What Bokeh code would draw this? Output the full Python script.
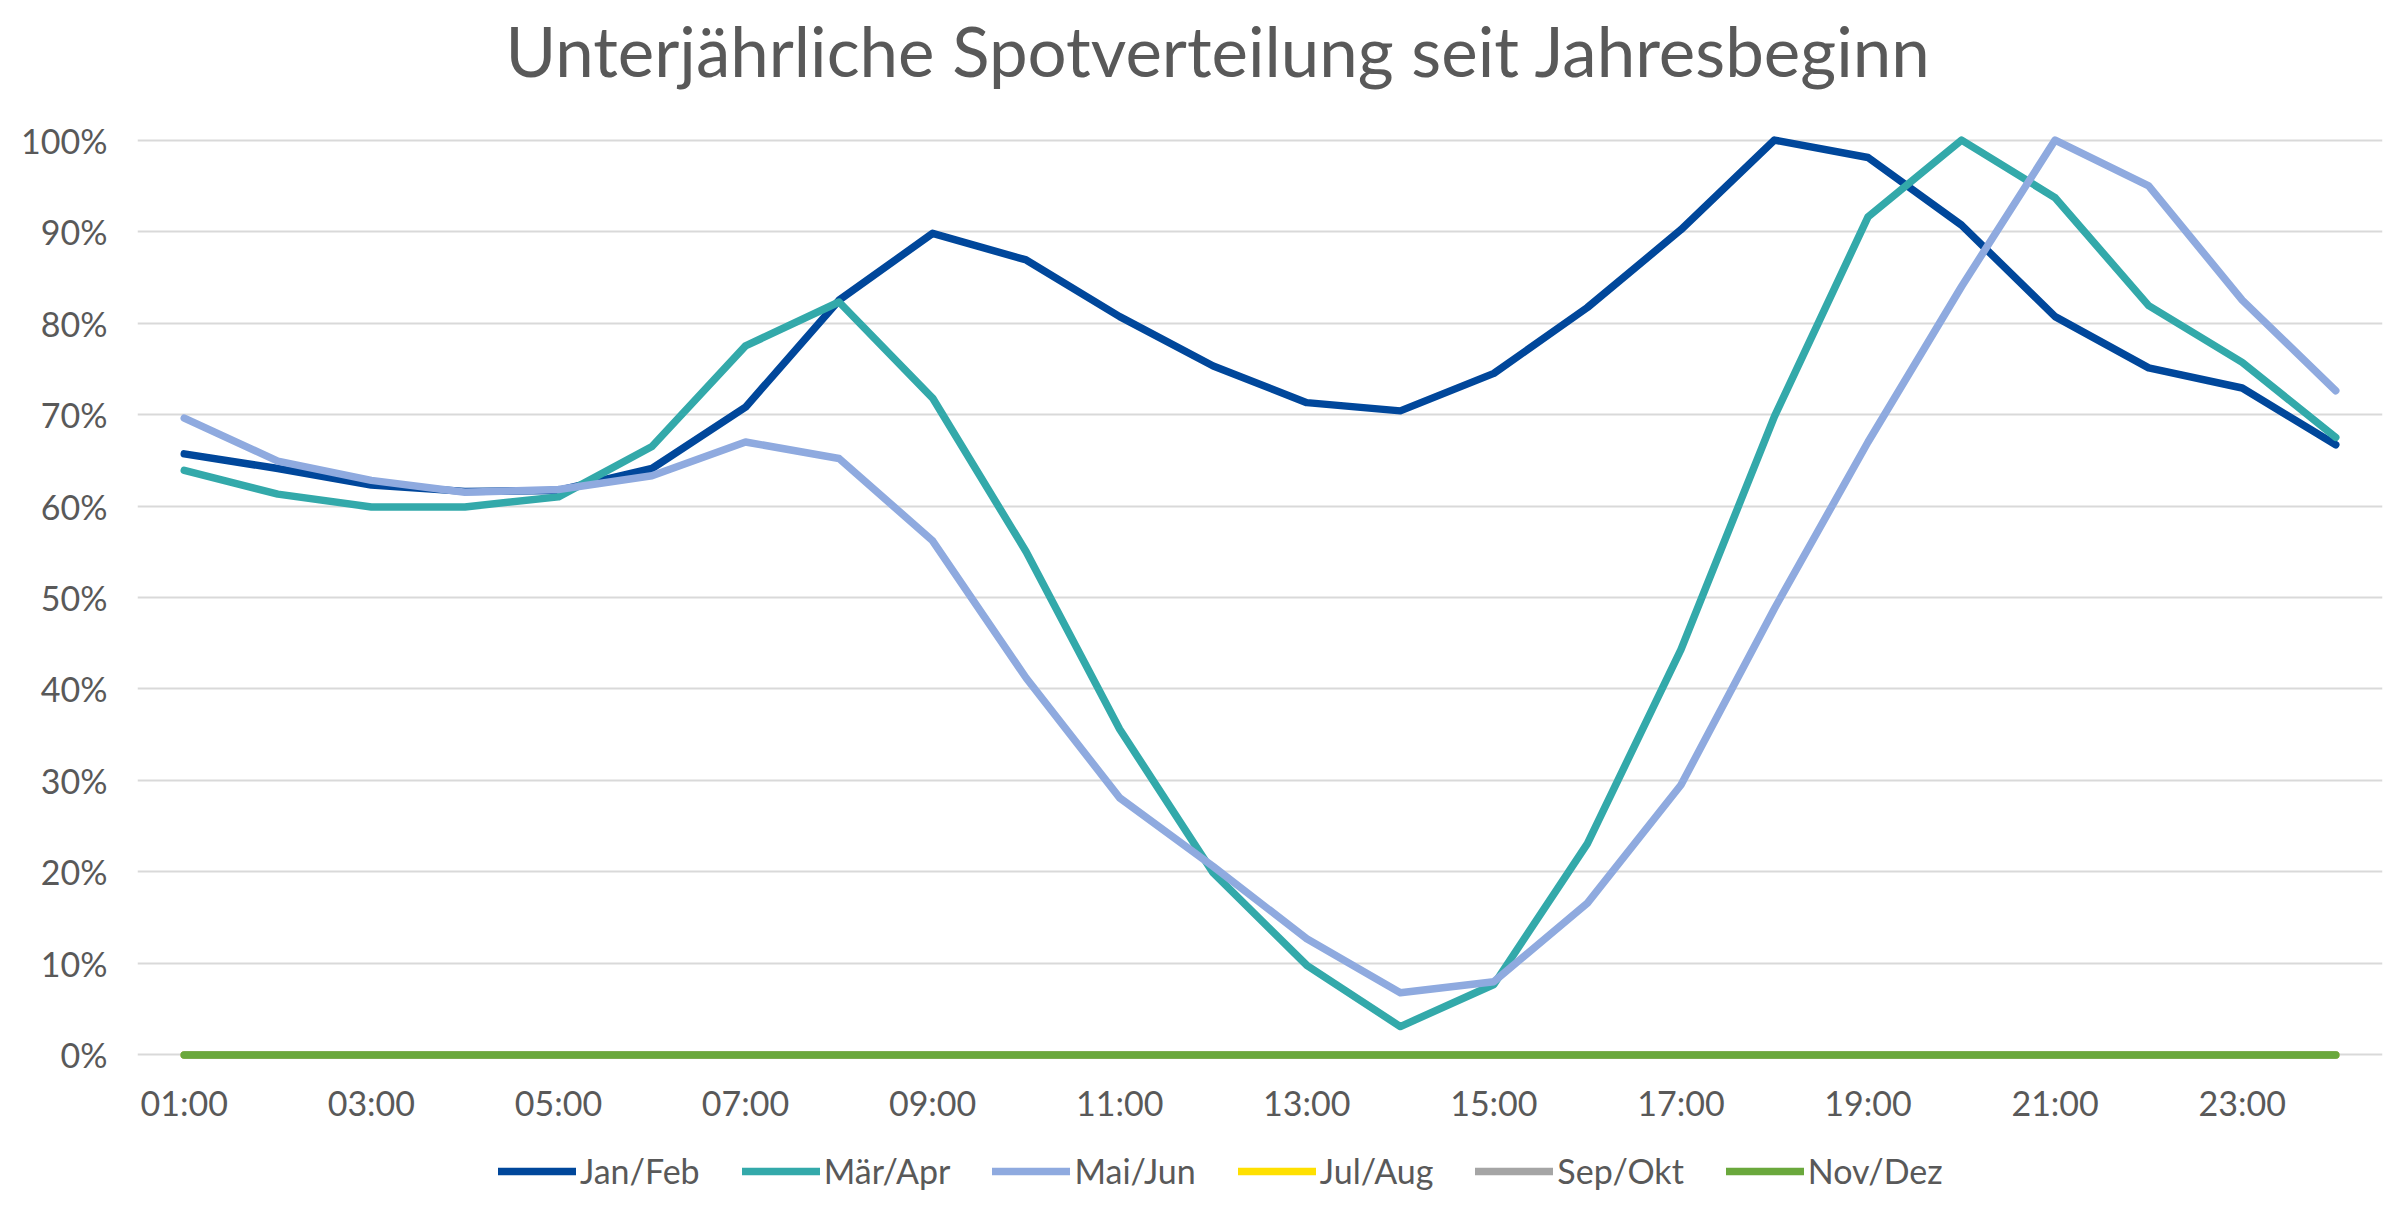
from bokeh.plotting import figure
from bokeh.layouts import column
from bokeh.models import (Range1d, FixedTicker, NumeralTickFormatter, Legend, LegendItem, Label)
from bokeh.embed import file_html
from bokeh.resources import INLINE

hours = list(range(1, 25))
hour_labels = ["%02d:00" % h for h in hours]
tick_hours = [1, 3, 5, 7, 9, 11, 13, 15, 17, 19, 21, 23]

series_names = ["Jan/Feb", "Mär/Apr", "Mai/Jun", "Jul/Aug", "Sep/Okt", "Nov/Dez"]
series_colors = ["#00479B", "#33A9AA", "#8FAADF", "#FFE000", "#A5A5A5", "#6AA83C"]

jan_feb = [65.7, 64.1, 62.3, 61.6, 61.7, 64.1, 70.8, 82.5, 89.8, 86.9, 80.7, 75.3,
           71.3, 70.4, 74.5, 81.7, 90.2, 100.0, 98.1, 90.7, 80.7, 75.1, 72.9, 66.7]
maer_apr = [63.9, 61.3, 59.9, 59.9, 61.0, 66.5, 77.5, 82.3, 71.8, 55.0, 35.6, 19.9,
            9.8, 3.1, 7.7, 23.1, 44.3, 69.8, 91.6, 100.0, 93.7, 81.9, 75.7, 67.5]
mai_jun = [69.6, 64.9, 62.8, 61.5, 61.8, 63.3, 67.0, 65.2, 56.2, 41.2, 28.1, 20.6,
           12.7, 6.8, 8.0, 16.6, 29.5, 48.8, 67.0, 84.0, 100.0, 95.0, 82.5, 72.6]
jul_aug = [0, 0, 0, 0, 0, 0, 0, 0, 0, 0, 0, 0, 0, 0, 0, 0, 0, 0, 0, 0, 0, 0, 0, 0]
sep_okt = [0, 0, 0, 0, 0, 0, 0, 0, 0, 0, 0, 0, 0, 0, 0, 0, 0, 0, 0, 0, 0, 0, 0, 0]
nov_dez = [0, 0, 0, 0, 0, 0, 0, 0, 0, 0, 0, 0, 0, 0, 0, 0, 0, 0, 0, 0, 0, 0, 0, 0]

all_series = [jan_feb, maer_apr, mai_jun, jul_aug, sep_okt, nov_dez]

title_text = "Unterjährliche Spotverteilung seit Jahresbeginn"
FONT = "Lato"
TXT = "#595959"
W = 2384
LW = 7.5
FRAME_L, FRAME_R = 137, 2382


def strip_figure(h):
    # column layout aligns this frame with the chart frame (x 137..2382)
    f = figure(width=W, height=h, x_range=Range1d(FRAME_L, FRAME_R), y_range=Range1d(0, h),
               x_axis_location=None, y_axis_location=None,
               min_border_left=0, min_border_right=0, min_border_top=0, min_border_bottom=0,
               output_backend="svg", toolbar_location=None,
               background_fill_color="white", border_fill_color="white")
    f.outline_line_color = None
    f.xgrid.grid_line_color = None
    f.ygrid.grid_line_color = None
    return f


# ---- title strip ----
t = strip_figure(100)
t.add_layout(Label(x=505, y=50, text=title_text, text_align="left",
                   text_baseline="alphabetic", text_font=FONT, text_font_size="69px",
                   text_color=TXT))

# ---- main chart ----
p = figure(frame_width=FRAME_R - FRAME_L, frame_height=924,
           min_border_left=FRAME_L, min_border_right=W - FRAME_R, min_border_top=35,
           min_border_bottom=70,
           x_range=Range1d(0.5, 24.5), y_range=Range1d(-0.005, 1.005),
           output_backend="svg", toolbar_location=None, background_fill_color="white",
           border_fill_color="white")
p.outline_line_color = None

p.xaxis.ticker = FixedTicker(ticks=tick_hours)
p.xaxis.major_label_overrides = {h: lbl for h, lbl in zip(hours, hour_labels)}
p.xaxis.axis_line_color = None
p.xaxis.major_tick_line_color = None
p.xaxis.minor_tick_line_color = None
p.xaxis.major_tick_out = 0
p.xaxis.major_tick_in = 0
p.xaxis.major_label_standoff = 22
p.xaxis.major_label_text_font = FONT
p.xaxis.major_label_text_font_size = "34px"
p.xaxis.major_label_text_color = TXT

p.yaxis.ticker = FixedTicker(ticks=[i / 10 for i in range(11)])
p.yaxis.formatter = NumeralTickFormatter(format="0%")
p.yaxis.axis_line_color = None
p.yaxis.major_tick_line_color = None
p.yaxis.minor_tick_line_color = None
p.yaxis.major_tick_out = 0
p.yaxis.major_tick_in = 0
p.yaxis.major_label_standoff = 30
p.yaxis.major_label_text_font = FONT
p.yaxis.major_label_text_font_size = "34px"
p.yaxis.major_label_text_color = TXT

p.xgrid.grid_line_color = None
p.ygrid.grid_line_color = "#D9D9D9"
p.ygrid.grid_line_width = 2

for name, vals, col in zip(series_names, all_series, series_colors):
    p.line(hours, [v / 100 for v in vals], line_color=col, line_width=LW,
           line_join="round", line_cap="round")

# ---- legend strip (its lines fall outside this strip's view; only the legend shows) ----
lg = strip_figure(62)
items = []
for name, vals, col in zip(series_names, all_series, series_colors):
    r = lg.line(hours, [v / 100 for v in vals], line_color=col, line_width=LW, line_cap="round")
    items.append(LegendItem(label=name, renderers=[r]))
legend = Legend(items=items, orientation="horizontal", location=(361, 0),
                glyph_width=78, glyph_height=34, label_height=34, label_standoff=4, spacing=42,
                padding=0, margin=0, border_line_color=None, background_fill_alpha=0,
                label_text_font=FONT, label_text_font_size="34px", label_text_color=TXT)
lg.add_layout(legend, "center")

layout = column(t, p, lg, spacing=0)
open("out.html", "w").write(file_html(layout, INLINE))
